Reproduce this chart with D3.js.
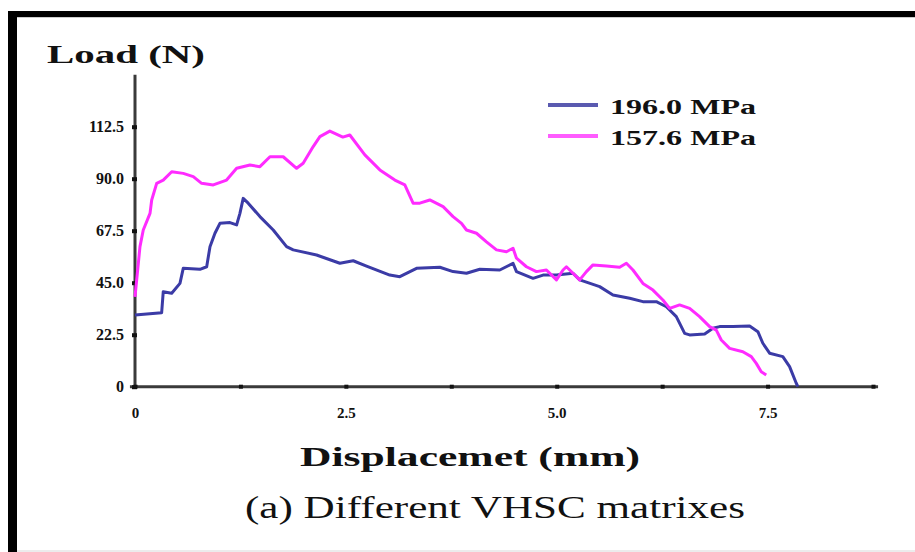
<!DOCTYPE html>
<html>
<head>
<meta charset="utf-8">
<script src="https://cdn.jsdelivr.net/npm/d3@7/dist/d3.min.js"></script>
<style>
    body { margin: 0; background: #fff; }
    svg { display: block; }
    text { font-family: "Liberation Serif", "Times New Roman", serif; fill: #111; }
</style>
</head>
<body>
<svg id="chart" width="915" height="552"></svg>
<script>
// series: displacement (mm) and load (N)
var disp196 = [0, 0.316, 0.335, 0.435, 0.533, 0.572, 0.77, 0.85, 0.889, 0.948, 1.007, 1.126, 1.205, 1.244, 1.283,
    1.342, 1.481, 1.639, 1.797, 1.876, 2.153, 2.429, 2.587, 2.745, 3.021, 3.14, 3.338, 3.614, 3.771, 3.93,
    4.088, 4.325, 4.482, 4.523, 4.719, 4.838, 4.997, 5.193, 5.273, 5.509, 5.667, 5.865, 6.022, 6.181, 6.3,
    6.418, 6.517, 6.576, 6.754, 6.852, 6.931, 7.089, 7.287, 7.385, 7.444, 7.524, 7.681, 7.761, 7.84, 7.86];
var load196 = [31.0, 32.0, 41.1, 40.4, 44.7, 51.2, 50.8, 51.9, 60.6, 66.4, 70.7, 71.0, 70.0, 75.0, 81.5,
    79.4, 73.6, 67.8, 60.6, 59.2, 57.0, 53.4, 54.5, 52.2, 48.3, 47.6, 51.2, 51.7, 49.8, 49.1,
    50.8, 50.5, 53.4, 49.8, 46.9, 48.3, 48.3, 49.1, 46.2, 43.3, 39.7, 38.3, 36.8, 36.8, 34.6,
    30.3, 23.1, 22.4, 22.8, 25.3, 26.0, 26.0, 26.3, 23.8, 18.8, 14.5, 13.0, 8.7, 1.5, 0];

var disp157 = [0, 0.059, 0.098, 0.178, 0.198, 0.257, 0.335, 0.435, 0.572, 0.691, 0.79, 0.928, 1.086, 1.205,
    1.363, 1.481, 1.6, 1.757, 1.916, 1.994, 2.113, 2.192, 2.31, 2.464, 2.547, 2.725, 2.903, 3.081, 3.199,
    3.297, 3.377, 3.495, 3.653, 3.771, 3.871, 3.93, 4.049, 4.167, 4.286, 4.404, 4.482, 4.523, 4.641, 4.759,
    4.878, 4.997, 5.075, 5.115, 5.193, 5.273, 5.352, 5.43, 5.589, 5.746, 5.826, 5.904, 6.022, 6.141, 6.259,
    6.339, 6.457, 6.576, 6.694, 6.813, 6.892, 6.951, 7.05, 7.207, 7.307, 7.366, 7.425, 7.484];
var load157 = [38.9, 60.6, 67.8, 75.0, 80.8, 88.0, 89.4, 93.0, 92.3, 90.9, 88.0, 87.3, 89.4, 94.5,
    95.9, 95.2, 99.5, 99.5, 94.5, 96.7, 103.9, 108.2, 110.6, 108.0, 108.9, 100.3, 93.8, 89.4, 87.3,
    79.4, 79.4, 80.8, 77.9, 73.6, 70.7, 67.8, 66.4, 62.7, 59.2, 58.4, 59.9, 55.6, 51.9, 49.8,
    50.5, 46.2, 50.5, 51.9, 49.1, 46.2, 49.8, 52.7, 52.2, 51.7, 53.4, 50.5, 44.7, 41.8, 37.5,
    33.9, 35.4, 33.9, 30.3, 26.0, 24.5, 20.2, 16.6, 15.1, 13.0, 10.1, 6.5, 5.1];

var seriesNames = ["196.0 MPa", "157.6 MPa"];
var seriesColors = ["#3b3ba6", "#ff2bff"];
var legendColors = ["#5a5ab0", "#ff5cff"];

var yTicks = [0, 22.5, 45, 67.5, 90, 112.5];
var xTicks = [0, 1.25, 2.5, 3.75, 5, 6.25, 7.5, 8.75];
var xLabels = {0: "0", 2.5: "2.5", 5: "5.0", 7.5: "7.5"};

var svg = d3.select("#chart");

// black frame on top and left, thin grey at the bottom
svg.append("rect").attr("x", 8).attr("y", 11).attr("width", 907).attr("height", 6).attr("fill", "#000");
svg.append("rect").attr("x", 8).attr("y", 11).attr("width", 9).attr("height", 541).attr("fill", "#000");
svg.append("rect").attr("x", 17).attr("y", 17).attr("width", 898).attr("height", 1).attr("fill", "#ccc");
svg.append("rect").attr("x", 17).attr("y", 550).attr("width", 898).attr("height", 2).attr("fill", "#ececec");

var x = d3.scaleLinear().domain([0, 8.75]).range([135, 873]);
var y = d3.scaleLinear().domain([0, 135]).range([386.7, 74.7]);

// axes lines
svg.append("line")
    .attr("x1", x(-0.06)).attr("x2", x(8.81))
    .attr("y1", y(0)).attr("y2", y(0))
    .attr("stroke", "#3a3a3a").attr("stroke-width", 3);
svg.append("line")
    .attr("x1", x(0)).attr("x2", x(0))
    .attr("y1", y(135)).attr("y2", y(-1))
    .attr("stroke", "#3a3a3a").attr("stroke-width", 3);

var yAxis = d3.axisLeft(y)
    .tickValues(yTicks)
    .tickSize(4)
    .tickPadding(6)
    .tickFormat(function (d) {
        return d === 0 ? "0" : d.toFixed(1);
    });

var gy = svg.append("g")
    .attr("transform", "translate(" + x(0) + ",0)")
    .call(yAxis);
gy.select(".domain").remove();
gy.selectAll(".tick line").attr("x2", 2).attr("x1", -3).attr("stroke", "#111").attr("stroke-width", 4);
gy.selectAll(".tick text")
    .attr("x", -11)
    .style("font-size", "16px")
    .style("font-weight", "bold")
    .style("font-family", "'Liberation Serif', serif")
    .attr("fill", "#111");

var xAxis = d3.axisBottom(x)
    .tickValues(xTicks)
    .tickSize(3)
    .tickPadding(18)
    .tickFormat(function (d) {
        return xLabels[d] || "";
    });

var gx = svg.append("g")
    .attr("transform", "translate(0," + y(0) + ")")
    .call(xAxis);
gx.select(".domain").remove();
gx.selectAll(".tick line").attr("y1", -2).attr("y2", 2).attr("stroke", "#111").attr("stroke-width", 4);
gx.selectAll(".tick text")
    .style("font-size", "15px")
    .style("font-weight", "bold")
    .style("font-family", "'Liberation Serif', serif")
    .attr("fill", "#111");

// curves
var line = d3.line()
    .x(function (d) { return x(d[0]); })
    .y(function (d) { return y(d[1]); });

var series = [d3.zip(disp196, load196), d3.zip(disp157, load157)];

svg.selectAll("path.curve")
    .data(series)
    .enter().append("path")
    .attr("class", "curve")
    .attr("d", line)
    .attr("fill", "none")
    .attr("stroke", function (d, i) { return seriesColors[i]; })
    .attr("stroke-width", 3)
    .attr("stroke-linejoin", "round");

// legend
var legend = svg.selectAll("g.legend")
    .data(seriesNames)
    .enter().append("g")
    .attr("class", "legend")
    .attr("transform", function (d, i) {
        return "translate(548," + (105 + i * 31) + ")";
    });

legend.append("line")
    .attr("x1", 0).attr("x2", 50)
    .attr("stroke", function (d, i) { return legendColors[i]; })
    .attr("stroke-width", 4);

legend.append("text")
    .attr("x", 62).attr("y", 9)
    .attr("textLength", 146)
    .attr("lengthAdjust", "spacingAndGlyphs")
    .style("font-size", "21px")
    .style("font-weight", "bold")
    .text(function (d) { return d; });

// titles
svg.append("text")
    .attr("x", 47).attr("y", 63)
    .attr("textLength", 158)
    .attr("lengthAdjust", "spacingAndGlyphs")
    .style("font-size", "26px")
    .style("font-weight", "bold")
    .text("Load (N)");

svg.append("text")
    .attr("x", 300).attr("y", 466)
    .attr("textLength", 340)
    .attr("lengthAdjust", "spacingAndGlyphs")
    .style("font-size", "28px")
    .style("font-weight", "bold")
    .text("Displacemet (mm)");

svg.append("text")
    .attr("x", 245).attr("y", 518)
    .attr("textLength", 500)
    .attr("lengthAdjust", "spacingAndGlyphs")
    .style("font-size", "31px")
    .text("(a) Different VHSC matrixes");
</script>
</body>
</html>
